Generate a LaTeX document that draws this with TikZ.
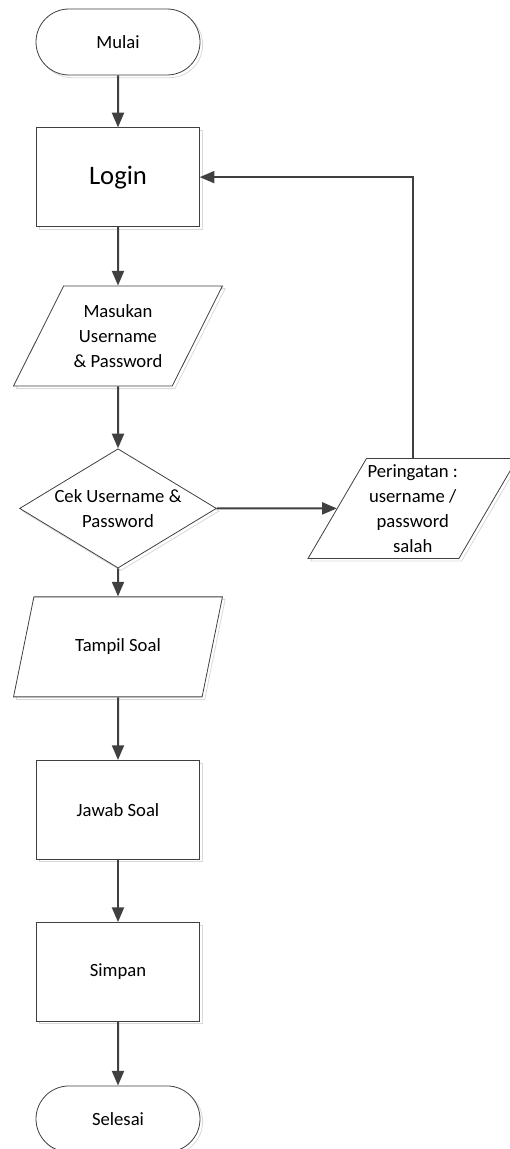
\documentclass[tikz,border=0pt]{standalone}
\usepackage{fontspec}
\setmainfont{Carlito}
\usetikzlibrary{positioning,shapes.geometric,shapes.misc,arrows.meta,shadows}

\tikzset{
  base/.style={draw=black!75, line width=0.6pt, fill=white, align=center, inner sep=0pt,
    font=\fontsize{14}{18.75}\selectfont,
    drop shadow={shadow xshift=2pt, shadow yshift=-2pt, fill=none, draw=black!15, opacity=1}},
  terminal/.style={base, rounded rectangle, minimum width=123pt, minimum height=49.5pt},
  process/.style={base, rectangle, minimum width=122pt, minimum height=74pt},
  io/.style={base, trapezium, trapezium left angle=57, trapezium right angle=123,
    trapezium stretches, minimum width=157pt, minimum height=75pt},
  decision/.style={base, diamond, aspect=1.65, inner sep=1pt, minimum width=145pt, minimum height=88pt},
  arrow/.style={draw=black!75, line width=1.5pt, -{Triangle[length=11pt,width=9pt]}},
}

\begin{document}
\begin{tikzpicture}[x=0.75pt, y=-0.75pt, node distance=46pt]
        \useasboundingbox (0,0) rectangle (510,1149);

        \node (mulai) [terminal] at (118,42) {Mulai};
        \node (login) [process, below=39pt of mulai, font=\fontsize{20}{24}\selectfont] {Login};
        \node (input) [io, below=44pt of login] {Masukan\\Username\\\& Password};
        \node (cek) [decision, below=46.5pt of input] {Cek Username \&\\Password};
        \node (peringatan) [io, right=90pt of cek] {Peringatan :\\username /\\password\\salah};
        \node (tampil) [io, below=21pt of cek] {Tampil Soal};
        \node (jawab) [process, below=47pt of tampil] {Jawab Soal};
        \node (simpan) [process, below=47pt of jawab] {Simpan};
        \node (selesai) [terminal, below=48pt of simpan] {Selesai};

        \draw[arrow] (mulai) -- (login);
        \draw[arrow] (login) -- (input);
        \draw[arrow] (input) -- (cek);
        \draw[arrow] (cek) -- (peringatan);
        \draw[arrow] (peringatan.north) |- (login.east);
        \draw[arrow] (cek) -- (tampil);
        \draw[arrow] (tampil) -- (jawab);
        \draw[arrow] (jawab) -- (simpan);
        \draw[arrow] (simpan) -- (selesai);
    \end{tikzpicture}
\end{document}
